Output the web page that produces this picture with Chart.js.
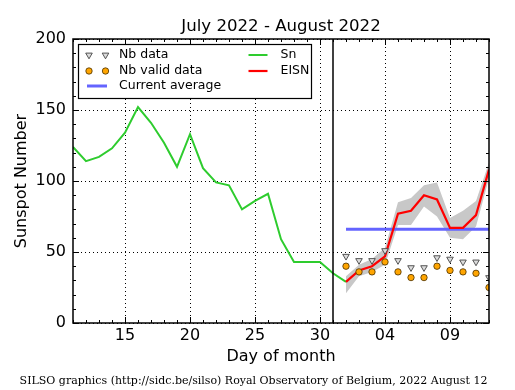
<!DOCTYPE html>
<html><head><meta charset="utf-8">
<script src="https://cdn.jsdelivr.net/npm/chart.js@4"></script>
<style>html,body{margin:0;padding:0;background:#fff}#wrap{width:515px;height:390px}</style>
</head><body><div id="wrap"><canvas id="c" width="515" height="390"></canvas></div>
<script>
// ---- data (x = day counted from 1 July; 32 = 1 August) ----
const snDays = [11,12,13,14,15,16,17,18,19,20,21,22,23,24,25,26,27,28,29,30,31,32];
const snValues = [124,114,117,123,134,152,141,127,110,133,109,99,97,80,86,91,59,43,43,43,35,29];
const eisnDays = [32,33,34,35,36,37,38,39,40,41,42,43];
const eisnValues = [29,37,40,47,77,79,90,87,67,67,76,108];
const eisnUpper = [33,41,45,53,85,88,97,99,74,79,86,113];
const eisnLower = [21,33,36,41,69,69,82,75,60,59,68,102];
const nbData = [47,44,44,51,44,39,39,46,45,43,43,32];
const nbValidData = [40,36,36,43,36,32,32,40,37,36,35,25];
const currentAverageDays = [32,43];
const currentAverageValues = [66,66];
const monthBoundaryDays = [31,31];
const monthBoundaryValues = [0,200];
const xTickValues = [15,20,25,30,35,40];
const xTickLabels = ['15','20','25','30','04','09'];
const xMin = 11, xMax = 43, yMin = 0, yMax = 200;
const titleText = 'July 2022 - August 2022';
const footerText = 'SILSO graphics (http://sidc.be/silso) Royal Observatory of Belgium, 2022 August 12';

const pts = (xs, ys) => xs.map((x, i) => ({x: x, y: ys[i]}));

Chart.defaults.font.family = 'DejaVu Sans';
Chart.defaults.color = '#000';

const FONT = 'DejaVu Sans';

const framePlugin = {
  id: 'frame',
  afterDraw(chart) {
    const ctx = chart.ctx, a = chart.chartArea;
    const xs = chart.scales.x, ys = chart.scales.y;
    ctx.save();
    // title & footer
    ctx.fillStyle = '#000';
    ctx.textAlign = 'center';
    ctx.textBaseline = 'middle';
    ctx.font = '16.6px ' + FONT;
    ctx.fillText(titleText, (a.left + a.right) / 2, a.top - 12);
    ctx.font = '11px "DejaVu Serif"';
    ctx.fillText(footerText, chart.width / 2 - 4, chart.height - 9);

    // inside tick marks
    ctx.strokeStyle = '#000';
    ctx.lineWidth = 1;
    ctx.beginPath();
    for (let d = xMin; d <= xMax; d++) {
      const px = Math.round(xs.getPixelForValue(d)) + 0.5;
      const len = (d % 5 === 0) ? 6 : 3;
      ctx.moveTo(px, a.bottom); ctx.lineTo(px, a.bottom - len);
      ctx.moveTo(px, a.top); ctx.lineTo(px, a.top + len);
    }
    for (let v = yMin; v <= yMax; v += 10) {
      const py = Math.round(ys.getPixelForValue(v)) + 0.5;
      const len = (v % 50 === 0) ? 6 : 3;
      ctx.moveTo(a.left, py); ctx.lineTo(a.left + len, py);
      ctx.moveTo(a.right, py); ctx.lineTo(a.right - len, py);
    }
    ctx.stroke();
    // frame
    ctx.lineWidth = 1.5;
    ctx.strokeRect(a.left, a.top, a.right - a.left, a.bottom - a.top);

    // legend
    const bx = a.left + 5.5, by = a.top + 5.5, bw = 233, bh = 54;
    ctx.fillStyle = '#fff';
    ctx.fillRect(bx, by, bw, bh);
    ctx.lineWidth = 1.2;
    ctx.strokeStyle = '#000';
    ctx.strokeRect(bx, by, bw, bh);
    const ds = chart.data.datasets;
    const find = l => ds.find(d => d.label === l);
    const rows = [by + 10.5, by + 26.5, by + 41.5];
    ctx.font = '12.5px ' + FONT;
    ctx.textBaseline = 'middle';
    ctx.textAlign = 'left';
    function markers(d, y) {
      [bx + 10.5, bx + 27].forEach(x => {
        ctx.fillStyle = d.pointBackgroundColor;
        ctx.strokeStyle = d.pointBorderColor;
        ctx.lineWidth = d.pointBorderWidth;
        Chart.helpers.drawPoint(ctx, {pointStyle: d.pointStyle, rotation: d.pointRotation || 0,
          radius: d.pointRadius, borderWidth: d.pointBorderWidth}, x, y);
      });
      ctx.fillStyle = '#000';
      ctx.fillText(d.label, bx + 40.5, y);
    }
    function line(d, x0, x1, tx, y) {
      ctx.strokeStyle = d.borderColor;
      ctx.lineWidth = d.borderWidth;
      ctx.beginPath(); ctx.moveTo(x0, y); ctx.lineTo(x1, y); ctx.stroke();
      ctx.fillStyle = '#000';
      ctx.fillText(d.label, tx, y);
    }
    markers(find('Nb data'), rows[0]);
    markers(find('Nb valid data'), rows[1]);
    line(find('Current average'), bx + 8.5, bx + 28.5, bx + 40.5, rows[2]);
    line(find('Sn'), bx + 170, bx + 189, bx + 202, rows[0]);
    line(find('EISN'), bx + 170, bx + 189, bx + 202, rows[1]);
    ctx.restore();
  }
};

new Chart(document.getElementById('c'), {
  type: 'line',
  data: {
    datasets: [
      {label: 'Nb valid data', data: pts(eisnDays, nbValidData), showLine: false,
       pointStyle: 'circle', pointRadius: 3.2, pointBackgroundColor: '#ffa500',
       pointBorderColor: '#4a3000', pointBorderWidth: 0.8, order: 1},
      {label: 'Nb data', data: pts(eisnDays, nbData), showLine: false,
       pointStyle: 'triangle', pointRotation: 180, pointRadius: 3.8, pointBackgroundColor: '#dcdcdc',
       pointBorderColor: '#444', pointBorderWidth: 0.9, order: 2},
      {label: 'month boundary', data: pts(monthBoundaryDays, monthBoundaryValues),
       borderColor: '#000', borderWidth: 1.5, pointRadius: 0, order: 3},
      {label: 'EISN', data: pts(eisnDays, eisnValues), borderColor: '#ff0000',
       borderWidth: 2.2, pointRadius: 0, order: 4},
      {label: 'Current average', data: pts(currentAverageDays, currentAverageValues),
       borderColor: '#6464ff', borderWidth: 3, pointRadius: 0, order: 5},
      {label: 'Sn', data: pts(snDays, snValues), borderColor: '#2ecc2e',
       borderWidth: 2, pointRadius: 0, order: 6},
      {label: 'EISN upper', data: pts(eisnDays, eisnUpper), borderWidth: 0,
       borderColor: 'rgba(0,0,0,0)', pointRadius: 0, fill: false, order: 7},
      {label: 'EISN lower', data: pts(eisnDays, eisnLower), borderWidth: 0,
       borderColor: 'rgba(0,0,0,0)', backgroundColor: '#c8c8c8', pointRadius: 0,
       fill: '-1', order: 7}
    ]
  },
  options: {
    responsive: false, animation: false, devicePixelRatio: 1, events: [],
    layout: {padding: {left: 0, right: 26, top: 39, bottom: 16}},
    elements: {line: {tension: 0}},
    plugins: {
      legend: {display: false},
      tooltip: {enabled: false},
      title: {display: false},
      subtitle: {display: false},
      filler: {propagate: false}
    },
    scales: {
      x: {type: 'linear', min: xMin, max: xMax,
        afterBuildTicks: s => { s.ticks = xTickValues.map(v => ({value: v})); },
        afterFit: s => { s.height = 51; },
        ticks: {font: {family: FONT, size: 16}, color: '#000', padding: 3, maxRotation: 0,
          callback: v => xTickLabels[xTickValues.indexOf(v)]},
        grid: {color: '#000', lineWidth: 1, drawTicks: false, borderDash: [1, 3]},
        border: {display: false, dash: [1, 3]},
        title: {display: true, text: 'Day of month', color: '#000',
          font: {family: FONT, size: 16}, padding: {top: 0, bottom: 7.4}}
      },
      y: {min: yMin, max: yMax,
        ticks: {stepSize: 50, font: {family: FONT, size: 16}, color: '#000', padding: 7},
        afterFit: s => { s.width = 73; },
        grid: {color: '#000', lineWidth: 1, drawTicks: false, borderDash: [1, 3]},
        border: {display: false, dash: [1, 3]},
        title: {display: true, text: 'Sunspot Number', color: '#000',
          font: {family: FONT, size: 16}, padding: {top: 12.4, bottom: 0}}
      }
    }
  },
  plugins: [framePlugin]
});
</script></body></html>
